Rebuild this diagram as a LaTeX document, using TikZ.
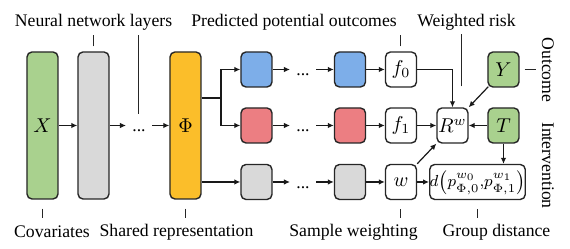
\documentclass[tikz,border=0pt]{standalone}
\usepackage{fontspec}
\setmainfont{Liberation Serif}
\usetikzlibrary{arrows.meta,calc}
\definecolor{cgreen}{RGB}{169,209,142}
\definecolor{cgray}{RGB}{217,217,217}
\definecolor{cgold}{RGB}{251,190,42}
\definecolor{cblue}{RGB}{125,174,233}
\definecolor{cred}{RGB}{236,126,130}
\begin{document}
\begin{tikzpicture}[x=0.5pt,y=-0.5pt,
  font=\rmfamily\fontsize{8.85}{10}\selectfont,
  box/.style={draw=black!85, line width=0.7pt, rounded corners=2.5pt, inner sep=0pt,
              minimum width=15.5pt, minimum height=17.5pt},
  tall/.style={box, minimum height=73.5pt},
  mth/.style={font=\fontsize{10}{12}\selectfont},
  arr/.style={-{Latex[length=3pt,width=2.8pt]}, line width=0.6pt, draw=black!90},
  ln/.style={line width=0.6pt, draw=black!90},
  tick/.style={line width=0.5pt, draw=black!85},
  lbl/.style={inner sep=0pt},
  dts/.style={inner sep=0pt, inner xsep=3pt, anchor=base}]
\useasboundingbox (0,0) rectangle (570,249);
% tall columns
\node[tall,mth,fill=cgreen] (X) at (42.5,125.5) {$X$};
\node[tall,fill=cgray] (g1) at (93.5,125.5) {};
\node[dts] (dd1) at (139,132) {...};
\node[tall,mth,fill=cgold] (phi) at (185.5,125.5) {$\Phi$};
% rows
\node[box,fill=cblue] (b1) at (256.5,69.5) {};
\node[box,fill=cred]  (r1) at (256.5,125.5) {};
\node[box,fill=cgray] (g2) at (256.5,182) {};
\node[dts] (db) at (303,76) {...};
\node[dts] (dr) at (303,132) {...};
\node[dts] (dg) at (303,188.5) {...};
\node[box,fill=cblue] (b2) at (350,69.5) {};
\node[box,fill=cred]  (r2) at (350,125.5) {};
\node[box,fill=cgray] (g3) at (350,182) {};
\node[box,mth,fill=white] (f0) at (401,69.5) {$f_0$};
\node[box,mth,fill=white] (f1) at (401,125.5) {$f_1$};
\node[box,mth,fill=white] (w) at (401,182) {$w$};
\node[box,mth,fill=white] (Rw) at (452.5,125.5) {$R^w$};
\node[box,mth,fill=cgreen] (Y) at (503.5,69.5) {$Y$};
\node[box,mth,fill=cgreen] (T) at (503.5,125.5) {$T$};
\node[box,fill=white,minimum width=40.5pt,font=\fontsize{8}{10}\selectfont] (d) at (477.5,182)
  {$d\bigl(p_{\Phi,0}^{w_0},\!p_{\Phi,1}^{w_1}\bigr)$};
% connectors
\draw[arr] (X.east) -- (g1.west);
\draw[arr] (X.east -| g1.east) -- (X.east -| dd1.west);
\draw[arr] (X.east -| dd1.east) -- (X.east -| phi.west);
\coordinate (br) at (221,98);
\draw[ln] (phi.east |- br) -- (br);
\draw[arr] (br) |- (b1.west);
\draw[arr] (br) |- (r1.west);
\draw[arr] (phi.east |- g2.west) -- (g2.west);
\draw[arr] (b1.east) -- (b1.east -| db.west);
\draw[arr] (b1.east -| db.east) -- (b2.west);
\draw[arr] (b2.east) -- (f0.west);
\draw[arr] (r1.east) -- (r1.east -| dr.west);
\draw[arr] (r1.east -| dr.east) -- (r2.west);
\draw[arr] (r2.east) -- (f1.west);
\draw[arr] (g2.east) -- (g2.east -| dg.west);
\draw[arr] (g2.east -| dg.east) -- (g3.west);
\draw[arr] (g3.east) -- (w.west);
\draw[arr] (f0.east) -| (Rw.north);
\draw[arr] (f1.east) -- (Rw.west);
\draw[arr] (T.west) -- (Rw.east);
\draw[arr] ($(Y.south west)+(1,-1)$) -- (Rw.north east);
\draw[arr] (w.north east) -- (Rw.south west);
\draw[arr] (w.east) -- (d.west);
\draw[arr] (T.south) -- (T.south |- d.north);
% labels
\node[lbl] (Lnn) at (93.5,22) {Neural network layers};
\node[lbl] (Lpo) at (294,22) {Predicted potential outcomes};
\node[lbl] (Lwr) at (466.5,22) {Weighted risk};
\node[lbl] (Lcv) at (52,232) {Covariates};
\node[lbl] (Lsr) at (176.5,232) {Shared representation};
\node[lbl] (Lsw) at (353.5,232) {Sample weighting};
\node[lbl] (Lgd) at (496.5,232) {Group distance};
\node[lbl,rotate=-90] (Lout) at (548,70) {Outcome};
\node[lbl,rotate=-90] (Lint) at (548,165.5) {Intervention};
% ticks
\draw[tick] ($(g1.north)+(0,-5)$) -- ($(g1.north)+(0,-16)$);
\draw[tick] ($(dd1.north)+(0,-16)$) -- ($(dd1.north |- g1.north)+(0,-16)$);
\draw[tick] ($(f0.north)+(0,-5)$) -- ($(f0.north)+(0,-16)$);
\draw[tick] ($(Rw.north)+(9.5,-21)$) -- ($(Rw.north)+(9.5,-73)$);
\draw[tick] ($(X.south)+(0,9)$) -- ($(X.south)+(0,18)$);
\draw[tick] ($(phi.south)+(0,9)$) -- ($(phi.south)+(0,18)$);
\draw[tick] ($(w.south)+(0,9)$) -- ($(w.south)+(0,18)$);
\draw[tick] ($(d.south)+(0,9)$) -- ($(d.south)+(0,18)$);
\draw[tick] ($(Y.east)+(5,0)$) -- ($(Y.east)+(16,0)$);
\end{tikzpicture}
\end{document}
